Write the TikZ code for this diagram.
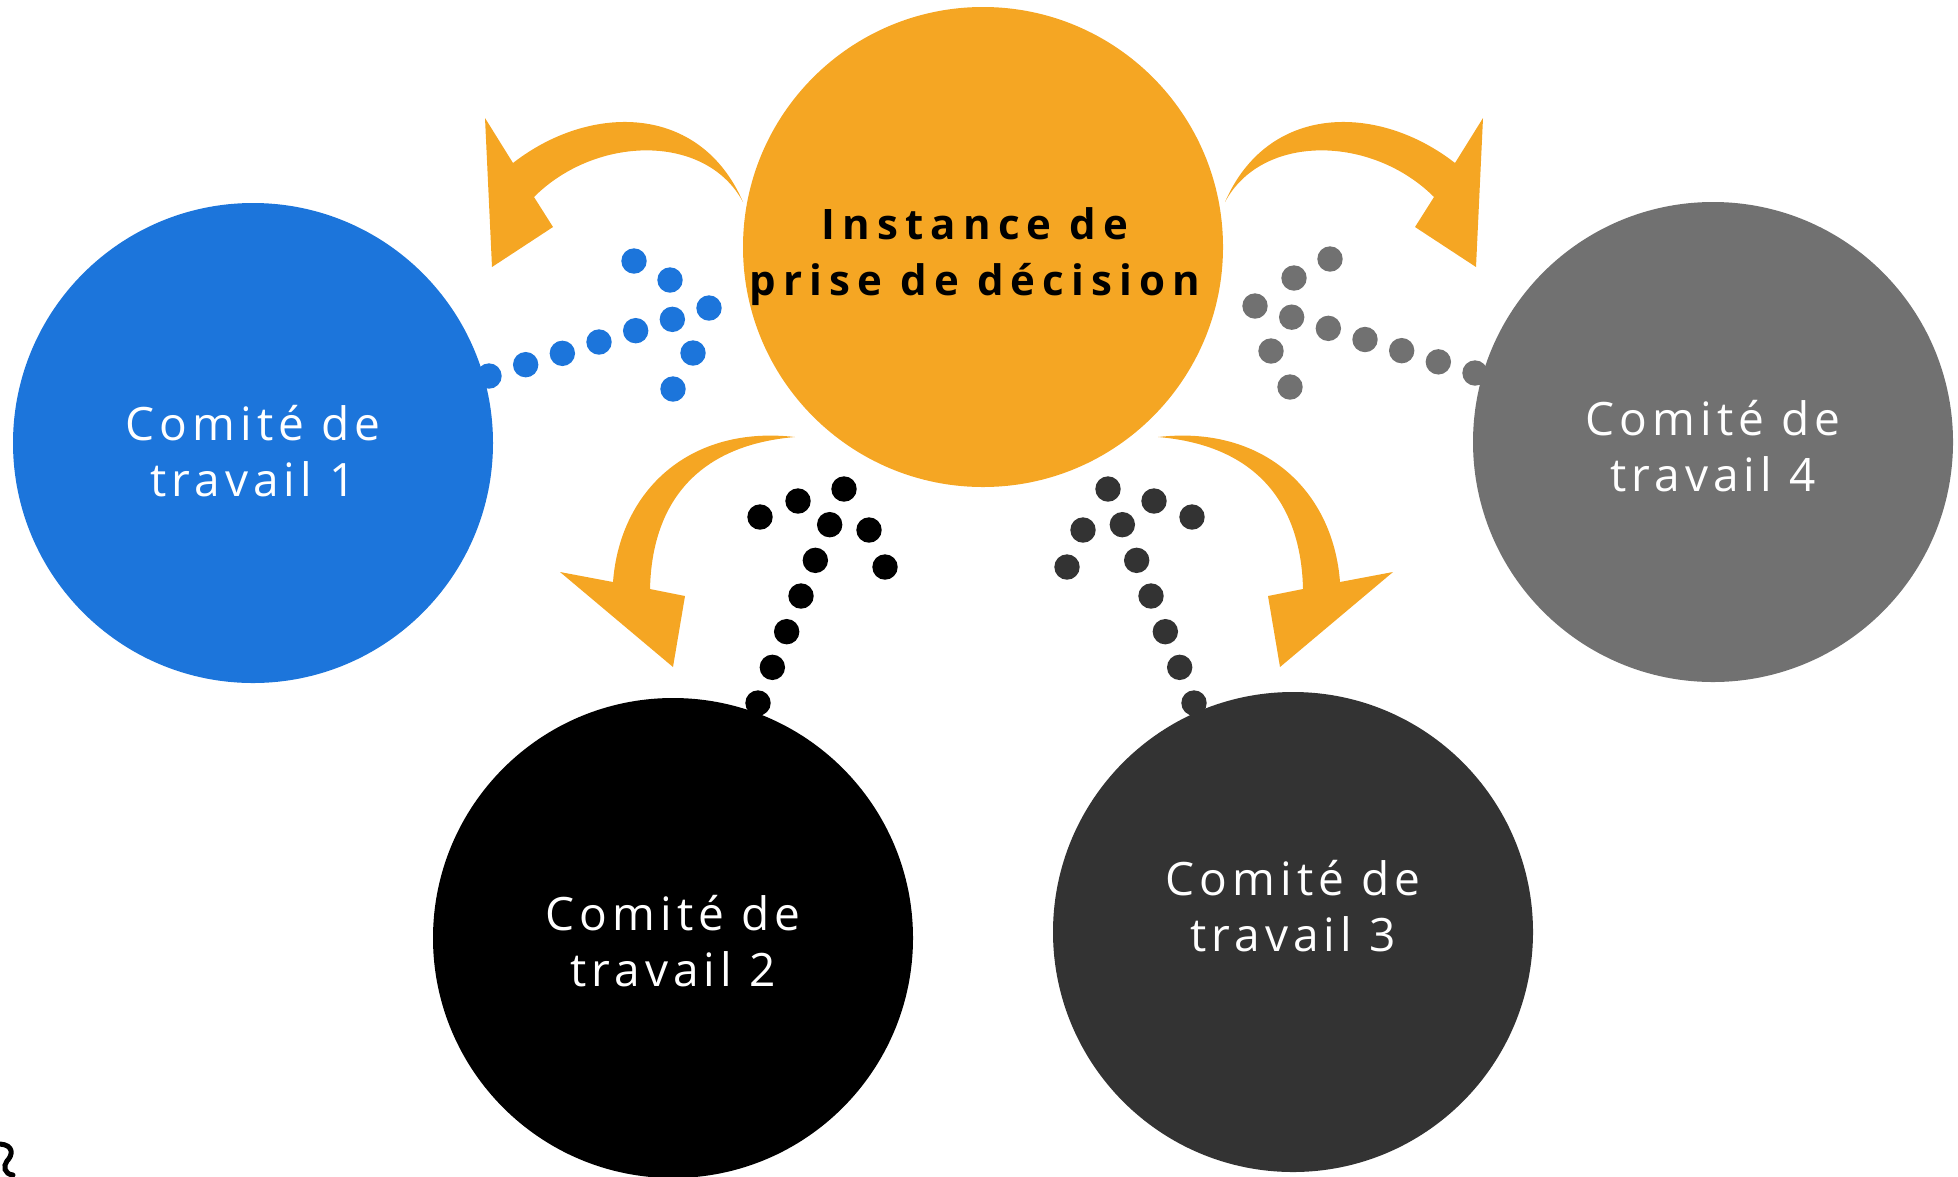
\documentclass[tikz,border=0pt]{standalone}
\usepackage{fontspec}
\setmainfont{Open Sans}
\newfontfamily\comitefont[LetterSpace=11]{Open Sans}
\newfontfamily\titrefont[LetterSpace=17]{Open Sans}
\usetikzlibrary{positioning,calc}

\definecolor{orangeinst}{HTML}{F5A623}
\definecolor{bleucom}{HTML}{1C75DB}
\definecolor{noircom}{HTML}{000000}
\definecolor{foncecom}{HTML}{333333}
\definecolor{griscom}{HTML}{717171}

\tikzset{
  instance/.style={circle,fill=orangeinst,minimum size=480pt,inner sep=0pt},
  comite/.style={circle,minimum size=480pt,inner sep=0pt},
  titre/.style={align=center,font=\titrefont\bfseries\fontsize{42}{56}\selectfont},
  etiquette/.style={align=center,text=white,font=\comitefont\fontsize{46}{56}\selectfont},
}
\newcommand{\rpoint}{12.7}

\begin{document}
\begin{tikzpicture}[x=1pt,y=-1pt]
\useasboundingbox (0,0) rectangle (1958,1176);

% fleches oranges
\fill[orangeinst] (743,202) .. controls (700,103) and (590,103) .. (513,163)
  -- (485,118) -- (492,267) -- (553,227) -- (534,197)
  .. controls (596,135) and (706,133) .. (743,202) -- cycle;
\fill[orangeinst] (1225,202) .. controls (1268,103) and (1378,103) .. (1455,163)
  -- (1483,118) -- (1476,267) -- (1415,227) -- (1434,197)
  .. controls (1372,135) and (1262,133) .. (1225,202) -- cycle;
\fill[orangeinst] (795,437) .. controls (690,425) and (620,490) .. (613,582)
  -- (560,572) -- (673,667) -- (685,596) -- (650,589)
  .. controls (652,500) and (700,445) .. (795,437) -- cycle;
\fill[orangeinst] (1158,437) .. controls (1263,425) and (1333,490) .. (1340,582)
  -- (1393,572) -- (1280,667) -- (1268,596) -- (1303,589)
  .. controls (1301,500) and (1253,445) .. (1158,437) -- cycle;

% cercles
\node[instance] (inst) at (983,247) {};
\node[comite,fill=bleucom] (c1) at (253,443) {};
\node[comite,fill=noircom] (c2) at (673,938) {};
\node[comite,fill=foncecom] (c3) at (1293,932) {};
\node[comite,fill=griscom] (c4) at (1713,442) {};

% textes
\node[titre] (t0) at ([xshift=-8pt,yshift=-10pt]inst.center) {Instance de\\prise de décision};
\node[etiquette] (t1) at ([yshift=-8pt]c1.center) {Comité de\\travail 1};
\node[etiquette] (t2) at ([yshift=-3pt]c2.center) {Comité de\\travail 2};
\node[etiquette] (t3) at ([yshift=26pt]c3.center) {Comité de\\travail 3};
\node[etiquette] (t4) at ([yshift=-4pt]c4.center) {Comité de\\travail 4};

% pointilles
\coordinate (d1) at (489,376); \coordinate (p1) at (709,308);
\coordinate (d2) at (758,703); \coordinate (p2) at (844,489);
\coordinate (d3) at (1194,703); \coordinate (p3) at (1108,489);
\coordinate (d4) at (1475,373); \coordinate (p4) at (1255,306);
\foreach \i in {0,...,6} {
  \fill[bleucom] ($(d1)!\i/6!(p1)$) circle (\rpoint);
  \fill[noircom] ($(d2)!\i/6!(p2)$) circle (\rpoint);
  \fill[foncecom] ($(d3)!\i/6!(p3)$) circle (\rpoint);
  \fill[griscom] ($(d4)!\i/6!(p4)$) circle (\rpoint);
}
\foreach \x/\y in {670/280,634/261,693/353,673/389}
  \fill[bleucom] (\x,\y) circle (\rpoint);
\foreach \x/\y in {798/501,760/517,869/530,885/567}
  \fill[noircom] (\x,\y) circle (\rpoint);
\foreach \x/\y in {1154/501,1192/517,1083/530,1067/567}
  \fill[foncecom] (\x,\y) circle (\rpoint);
\foreach \x/\y in {1294/278,1330/259,1271/351,1290/387}
  \fill[griscom] (\x,\y) circle (\rpoint);

% trait au coin
\draw[line width=5pt,line cap=round] (0,1144) .. controls (14,1145) and (13,1155) .. (7,1161)
  .. controls (3,1166) and (4,1174) .. (13,1175);
\end{tikzpicture}
\end{document}
